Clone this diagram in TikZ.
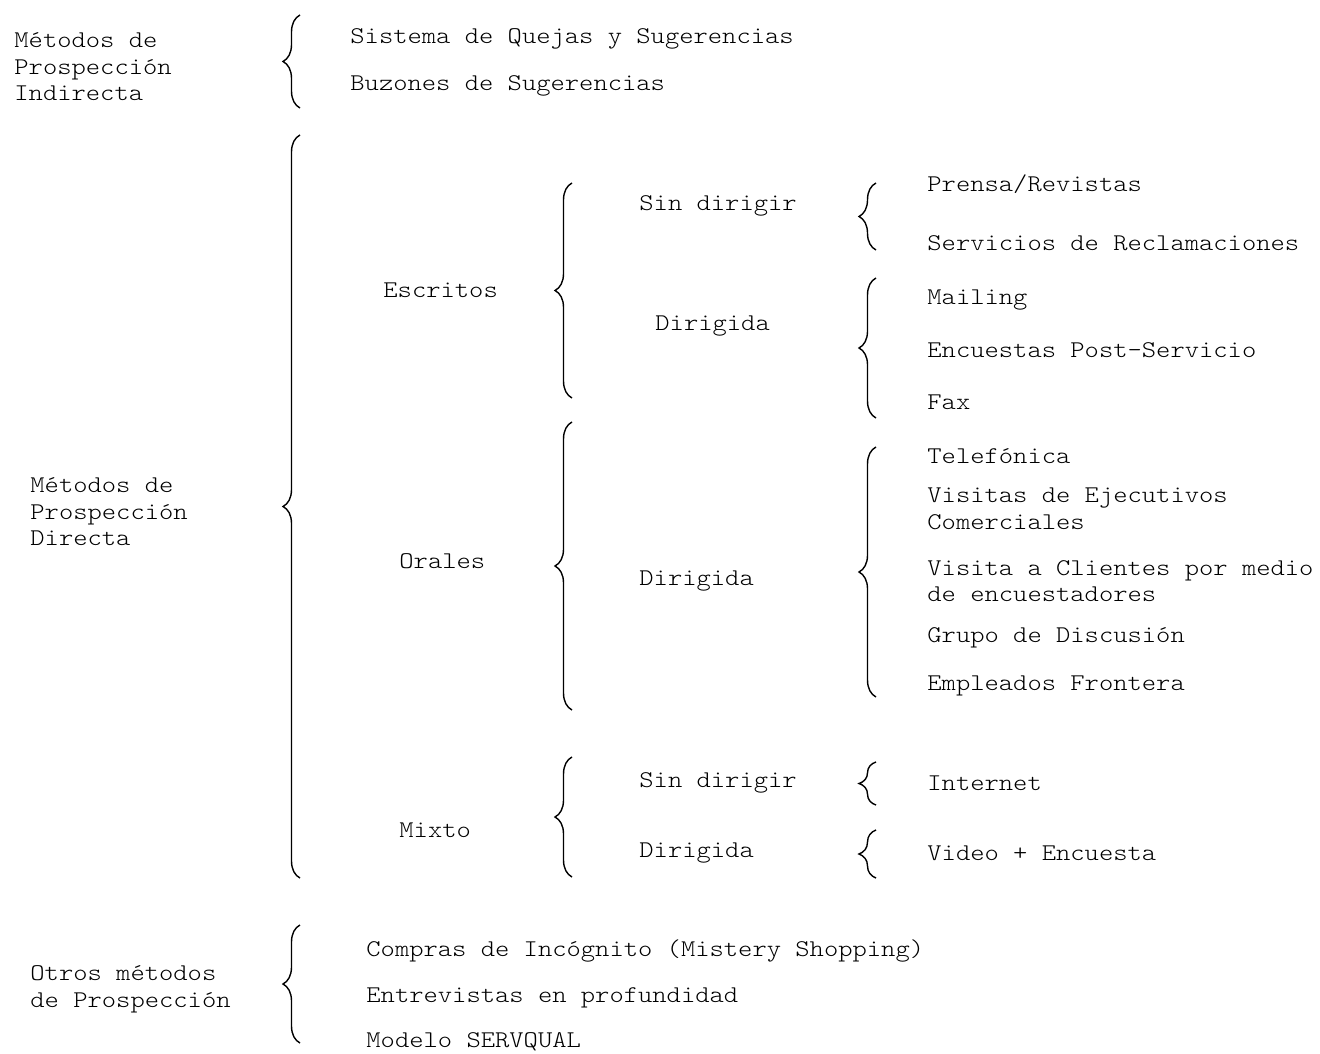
\documentclass[tikz,border=0pt]{standalone}
\usepackage{fontspec}
\setmainfont{Latin Modern Mono Light}[FakeStretch=1.135]
\usepackage{tikz}
\usetikzlibrary{positioning,decorations.pathreplacing}

\tikzset{
  txt/.style={anchor=west, inner sep=0pt, align=left, yshift=-1pt, font=\fontsize{12}{13.3}\selectfont},
  llave/.style={decorate, decoration={brace, amplitude=8.5pt}, line width=0.7pt},
}

\begin{document}
\begin{tikzpicture}[x=0.5pt, y=-0.5pt]
\useasboundingbox (0,0) rectangle (1320,1053);
% primer nivel
\node[txt] (indirecta) at (14,65) {Métodos de\\Prospección\\Indirecta};
\node[txt] (directa) at (30,510) {Métodos de\\Prospección\\Directa};
\node[txt] (otros) at (30,987) {Otros métodos\\de Prospección};
\node[txt] (quejas) at (350,37) {Sistema de Quejas y Sugerencias};
\node[txt] (buzones) at (350,84) {Buzones de Sugerencias};
\node[txt] (compras) at (366,949) {Compras de Incógnito (Mistery Shopping)};
\node[txt] (entrevistas) at (366,996) {Entrevistas en profundidad};
\node[txt] (servqual) at (366,1040) {Modelo SERVQUAL};
% segundo nivel
\node[txt] (escritos) at (383,288) {Escritos};
\node[txt] (orales) at (399,559) {Orales};
\node[txt] (mixto) at (399,828) {Mixto};
% tercer nivel
\node[txt] (esd) at (639,204) {Sin dirigir};
\node[txt] (edir) at (655,324) {Dirigida};
\node[txt] (odir) at (639,579) {Dirigida};
\node[txt] (msd) at (639,781) {Sin dirigir};
\node[txt] (mdir) at (639,851) {Dirigida};
% cuarto nivel
\node[txt] (prensa) at (927,182) {Prensa/Revistas};
\node[txt] (reclam) at (927,241) {Servicios de Reclamaciones};
\node[txt] (mailing) at (927,298) {Mailing};
\node[txt] (encpost) at (927,348) {Encuestas Post-Servicio};
\node[txt] (fax) at (927,400) {Fax};
\node[txt] (telef) at (927,454) {Telefónica};
\node[txt] (visejec) at (927,507) {Visitas de Ejecutivos\\Comerciales};
\node[txt] (viscli) at (927,579) {Visita a Clientes por medio\\de encuestadores};
\node[txt] (grupo) at (927,636) {Grupo de Discusión};
\node[txt] (empl) at (927,684) {Empleados Frontera};
\node[txt] (internet) at (927,781) {Internet};
\node[txt] (video) at (927,851) {Video + Encuesta};
% llaves
\foreach \x/\a/\b in {300/15/108, 300/135/878, 300/925/1043,
                      572/183/398, 572/422/710, 572/757/877,
                      876/183/250, 876/278/418, 876/447/697,
                      876/762/805, 876/830/878}
  \draw[llave] (\x,\b) -- (\x,\a);
\end{tikzpicture}
\end{document}
